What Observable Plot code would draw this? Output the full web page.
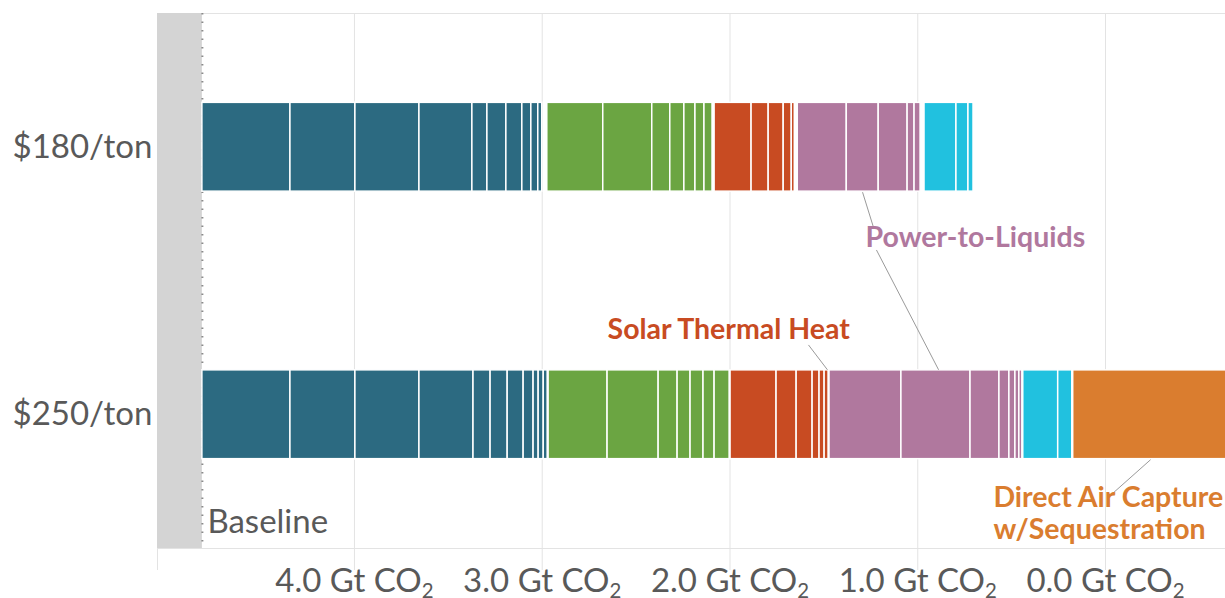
<!DOCTYPE html>
<html>
<head>
<meta charset="utf-8">
<script src="https://cdn.jsdelivr.net/npm/d3@7"></script>
<script src="https://cdn.jsdelivr.net/npm/@observablehq/plot@0.6"></script>
<style>
  html, body { margin: 0; padding: 0; background: #ffffff; }
  #chart { width: 1225px; height: 598px; overflow: hidden; }
  svg { font-family: Lato, "Open Sans", sans-serif; }
</style>
</head>
<body>
<div id="chart"></div>
<script>
// ---------- data ----------
const scenarios = ["$180/ton", "$250/ton"];
const categories = ["Measures A", "Measures B", "Solar Thermal Heat", "Power-to-Liquids", "Measures C", "Direct Air Capture w/Sequestration"];
const categoryColors = ["#2c6a81", "#6ba542", "#c84b22", "#b0789e", "#21c1df", "#da7d2f"];
const baselineGt = 4.81;            // baseline emissions, Gt CO2
const xTicks = [4, 3, 2, 1, 0];

// abatement segment widths (Gt CO2), per category, $180/ton
const segments180 = [
  [0.469, 0.346, 0.341, 0.282, 0.080, 0.101, 0.085, 0.048, 0.037, 0.021],
  [0.298, 0.261, 0.096, 0.075, 0.059, 0.048, 0.043],
  [0.197, 0.091, 0.080, 0.043, 0.016],
  [0.261, 0.170, 0.154, 0.037, 0.032],
  [0.170, 0.064, 0.027],
  []
];
const gaps180 = [0.027, 0.011, 0.016, 0.021, 0];

// abatement segment widths (Gt CO2), per category, $250/ton
const segments250 = [
  [0.469, 0.346, 0.341, 0.288, 0.091, 0.091, 0.085, 0.053, 0.027, 0.027, 0.021],
  [0.314, 0.272, 0.101, 0.069, 0.069, 0.059, 0.080],
  [0.245, 0.107, 0.085, 0.037, 0.027, 0.021],
  [0.383, 0.368, 0.154, 0.053, 0.032, 0.021, 0.016],
  [0.186, 0.075],
  [1.0]
];
const gaps250 = [0.005, 0.005, 0.005, 0.005, 0.005];

// annotation labels
const labelTexts = ["Power-to-Liquids", "Solar Thermal Heat", "Direct Air Capture", "w/Sequestration"];
const labelColors = ["#b0789e", "#c84b22", "#da7d2f", "#da7d2f"];
const labelX = [1.278, 2.652, 0.597, 0.597];
const labelY = [0.340, 0.683, 1.310, 1.429];

// leader lines [x1, y1, x2, y2]
const leaders = [
  [1.294, 0.168, 1.236, 0.299],
  [1.220, 0.384, 0.889, 0.832],
  [1.582, 0.739, 1.481, 0.832],
  [-0.240, 1.168, -0.043, 1.291]
];

// ---------- build table ----------
function buildRows(scenarioIndex, segs, gaps) {
  const rows = [];
  let cursor = baselineGt;
  segs.forEach((list, ci) => {
    list.forEach(w => {
      rows.push({scenario: scenarios[scenarioIndex], row: scenarioIndex, category: categories[ci], x1: cursor, x2: cursor - w});
      cursor -= w;
    });
    cursor -= (gaps[ci] || 0);
  });
  return rows;
}
const rows = [...buildRows(0, segments180, gaps180), ...buildRows(1, segments250, gaps250)];
const labels = labelTexts.map((t, i) => ({text: t, color: labelColors[i], x: labelX[i], y: labelY[i]}));
const leaderRows = leaders.map(([x1, y1, x2, y2]) => ({x1, y1, x2, y2}));

const xMax = 5.049, xMin = -0.639;
const half = 0.166;

const plot = Plot.plot({
  width: 1225,
  height: 598,
  marginLeft: 157,
  marginRight: 0,
  marginTop: 13,
  marginBottom: 50,
  style: {fontFamily: "Lato, 'Open Sans', sans-serif", background: "white"},
  x: {domain: [xMax, xMin]},
  y: {domain: [1.5, -0.5]},
  color: {domain: categories, range: categoryColors},
  marks: [
    Plot.gridX(xTicks, {stroke: "#e3e3e3", strokeOpacity: 1}),
    Plot.ruleY([-0.5, 1.5], {stroke: "#e3e3e3"}),
    Plot.rect([0], {x1: xMax, x2: baselineGt, y1: -0.5, y2: 1.5, fill: "#d4d4d4"}),
    Plot.ruleX([baselineGt], {stroke: "#8a8a8a", strokeWidth: 2, strokeDasharray: "1.5,7"}),
    Plot.rect(rows, {
      x1: "x1", x2: "x2",
      y1: d => d.row - half, y2: d => d.row + half,
      fill: "category", stroke: "white", strokeWidth: 1.5, clip: true
    }),
    Plot.link(leaderRows, {x1: "x1", y1: "y1", x2: "x2", y2: "y2", stroke: "#9a9a9a", strokeWidth: 1}),
    Plot.text(labels, {x: "x", y: "y", text: "text", fill: d => d.color, textAnchor: "start", fontSize: 28.5, fontWeight: "bold"}),
    Plot.text(["Baseline"], {x: baselineGt, y: 1.401, text: d => d, textAnchor: "start", dx: 5, fontSize: 33, fill: "#595959"}),
    Plot.axisY([0, 1], {tickFormat: i => scenarios[i], tickSize: 0, tickPadding: 5, fontSize: 33, fill: "#595959"}),
    Plot.axisX([xMax, ...xTicks], {
      tickFormat: d => d === xMax ? "" : d.toFixed(1) + " Gt CO2",
      tickSize: 22, tickPadding: -2, fontSize: 33, fill: "#595959", stroke: "#e3e3e3"
    })
  ]
});

document.getElementById("chart").appendChild(plot);

// subscript the "2" of CO2 in the x tick labels
d3.select(plot).selectAll('g[aria-label="x-axis tick label"] text').each(function() {
  const t = this.textContent;
  if (t.endsWith("CO2")) {
    const el = d3.select(this);
    el.text(t.slice(0, -1));
    el.append("tspan").attr("font-size", "0.62em").attr("dy", "0.32em").text("2");
  }
});
</script>
</body>
</html>
